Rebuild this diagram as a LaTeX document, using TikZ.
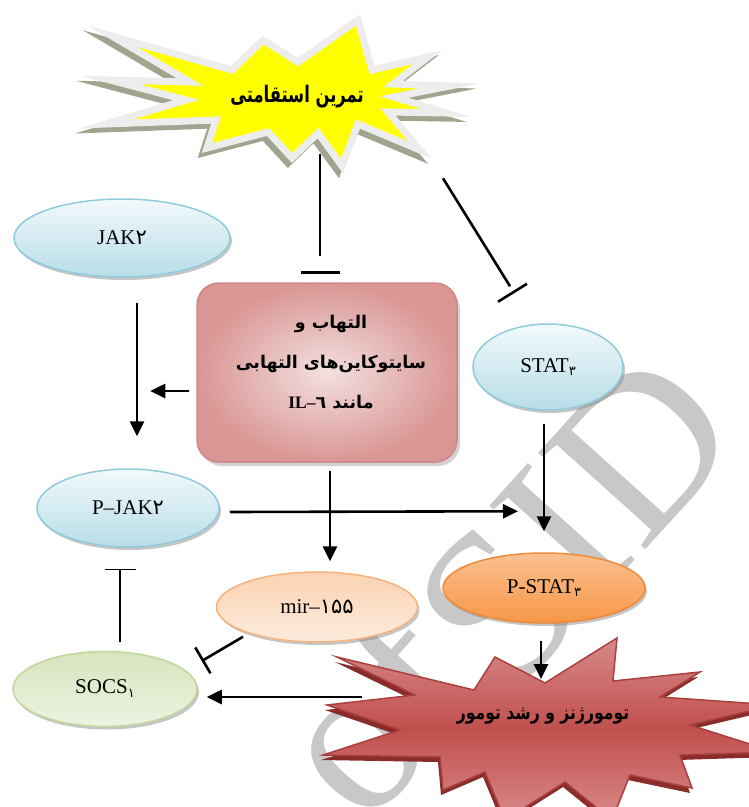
\documentclass[tikz,border=0pt]{standalone}
\usepackage{fontspec}
\setmainfont{Liberation Serif}
\newfontfamily\fa[Script=Arabic]{DejaVu Sans}
\TeXXeTstate=1
\usetikzlibrary{arrows.meta,calc,shapes.geometric,shadows}
\definecolor{wmgray}{HTML}{C8C8C8}
\definecolor{staryellow}{HTML}{FFFF00}
\definecolor{starborder}{HTML}{EDEDED}
\definecolor{starshadow}{HTML}{9FA58E}
\definecolor{boxlight}{HTML}{F3E0DF}
\definecolor{boxdark}{HTML}{D99694}
\definecolor{boxborder}{HTML}{D08886}
\definecolor{bluetop}{HTML}{F2F9FB}
\definecolor{bluebot}{HTML}{B7DDE8}
\definecolor{blueborder}{HTML}{8FCBDB}
\definecolor{orangetop}{HTML}{FAC090}
\definecolor{orangebot}{HTML}{F79646}
\definecolor{orangeborder}{HTML}{EE8A3C}
\definecolor{peachtop}{HTML}{FBD3B2}
\definecolor{peachbot}{HTML}{FDEBDD}
\definecolor{peachborder}{HTML}{F8B27C}
\definecolor{greentop}{HTML}{D7E4BD}
\definecolor{greenbot}{HTML}{EDF3E2}
\definecolor{greenborder}{HTML}{C3D69B}
\definecolor{redlight}{HTML}{D8898A}
\definecolor{redmid}{HTML}{C0504D}
\definecolor{redborder}{HTML}{A9403E}
\definecolor{redshadow}{HTML}{8A2C2A}
\begin{document}
\begin{tikzpicture}[x=1pt,y=-1pt,
  lbl/.style={font=\fontsize{21}{21}\selectfont},
  ell/.style={ellipse, inner sep=0pt, line width=1.5pt, lbl,
    drop shadow={shadow xshift=2pt,shadow yshift=-3pt,fill=black!45}},
  blueell/.style={ell, draw=blueborder, top color=bluetop, bottom color=bluebot},
  orangeell/.style={ell, draw=orangeborder, top color=orangetop, bottom color=orangebot},
  peachell/.style={ell, draw=peachborder, top color=peachtop, bottom color=peachbot},
  greenell/.style={ell, draw=greenborder, top color=greentop, bottom color=greenbot},
  fatext/.style={font=\fa\bfseries\fontsize{#1}{#1}\selectfont},
  wmtext/.style={text=wmgray, rotate=48, anchor=base west, inner sep=0pt,
    font=\fontsize{220}{220}\selectfont},
  arr/.style={line width=2.6pt, -{Triangle[length=15pt,width=14pt]}},
  inh/.style={line width=2.6pt},
  thininh/.style={line width=1.3pt, -{Bar[width=31pt]}},
  fatinh/.style={line width=2.6pt, -{Bar[width=30pt]}}
]
\useasboundingbox (0,0) rectangle (749,807);
\clip (0,0) rectangle (749,807);

% watermark
\node[wmtext] (wmof) at (365,830) {of};
\node[wmtext] (wmsid) at (510,700) {SID};

% top starburst
\def\topstar{(112,36) -- (232,70) -- (263,40) -- (298,62) -- (358,20) -- (372,70) -- (428,57) -- (393,84) -- (450,86) -- (394,97) -- (446,113) -- (388,112) -- (420,150) -- (358,124) -- (342,166) -- (318,133) -- (292,158) -- (268,132) -- (207,148) -- (216,120) -- (106,124) -- (186,100) -- (110,80) -- (190,82) -- cycle}
\path[fill=starshadow, draw=starshadow, line width=7pt, shift={(-4,5)}] \topstar;
\path[fill=staryellow, draw=starborder, line width=7pt] \topstar;
\node[fatext=19] (ex) at (297,97) {\scalebox{0.86}[1.2]{\beginR تمرین استقامتی\endR}};

% bottom starburst
\def\botstar{(337,657) -- (474,690) -- (495,657) -- (545,683) -- (617,638) -- (613,681) -- (700,672) -- (660,697) -- (775,705) -- (690,725) -- (775,752) -- (680,755) -- (692,788) -- (630,775) -- (612,820) -- (565,782) -- (505,820) -- (485,772) -- (443,790) -- (440,757) -- (323,755) -- (400,730) -- (327,705) -- (415,695) -- cycle}
\path[fill=redshadow, shift={(-2,5)}] \botstar;
\path[draw=redborder, line width=1.5pt, top color=redlight, bottom color=redlight, middle color=redmid] \botstar;
\node[fatext=17] (tum) at (543,716) {\scalebox{0.92}[1.15]{\beginR تومورژنز و رشد تومور\endR}};

% central box
\node[rounded corners=22pt, minimum width=260pt, minimum height=179pt, inner sep=0pt,
  draw=boxborder, line width=1.5pt, inner color=boxlight, outer color=boxdark,
  drop shadow={shadow xshift=3pt,shadow yshift=-4pt,fill=black!35}] (box) at (327,372.5) {};
\node[align=center, font=\fa\bfseries\fontsize{17.5}{40}\selectfont] (boxtxt) at (331,362)
  {\beginR التهاب و\endR\\\beginR سایتوکاین‌های التهابی\endR\\\beginR مانند \beginL{\rmfamily\bfseries IL–}٦\endL\endR};

% ellipses
\node[blueell, minimum width=216pt, minimum height=78pt] (jak2) at (122,238) {JAK{\fa ۲}};
\node[blueell, minimum width=182pt, minimum height=78pt] (pjak2) at (128,508) {P–JAK{\fa ۲}};
\node[blueell, minimum width=150pt, minimum height=86pt] (stat3) at (548,367) {STAT\raisebox{-3pt}{\fa\fontsize{13}{13}\selectfont ۳}};
\node[orangeell, minimum width=202pt, minimum height=70pt] (pstat3) at (544,588) {P-STAT\raisebox{-3pt}{\fa\fontsize{13}{13}\selectfont ۳}};
\node[peachell, minimum width=201pt, minimum height=70pt] (mir) at (317,607) {mir–{\fa ۱۵۵}};
\node[greenell, minimum width=184pt, minimum height=75pt] (socs) at (105,689) {SOCS\raisebox{-4pt}{\fa\fontsize{13}{13}\selectfont ۱}};

% connectors
\draw[inh] ($(box.north)+(-7,-128)$) -- ($(box.north)+(-7,-26)$);
\draw[inh] ($(box.north)+(-26,-10)$) -- ($(box.north)+(13,-10)$);
\draw[inh] ($(stat3.north)+(-105,-145)$) -- ($(stat3.north)+(-38,-37)$);
\draw[inh] ($(stat3.north)+(-50,-21.5)$) -- ($(stat3.north)+(-21,-39.5)$);
\draw[arr] ($(jak2.south)+(15,25)$) -- ($(pjak2.north)+(9,-32)$);
\draw[arr] ($(box.west)+(-7,18.5)$) -- ($(box.west)+(-46,18.5)$);
\draw[arr] ($(box.south)+(3,8)$) -- ($(mir.north)+(13,-10)$);
\draw[arr] ($(pjak2.east)+(10,4)$) -- ($(pstat3.north)+(-26,-41)$);
\draw[arr] ($(stat3.south)+(-4,13)$) -- ($(pstat3.north)+(0,-21)$);
\draw[arr] ($(pstat3.south)+(-3,17)$) -- ($(tum)+(-2,-37)$);
\draw[arr] ($(tum)+(-181,-19)$) -- ($(socs.east)+(9,8)$);
\draw[fatinh] ($(mir.south)+(-74,-6)$) -- ($(socs.east)+(4,-28)$);
\draw[thininh] ($(socs.north)+(15,-8.5)$) -- ($(pjak2.south)+(-8,21)$);
\end{tikzpicture}
\end{document}
